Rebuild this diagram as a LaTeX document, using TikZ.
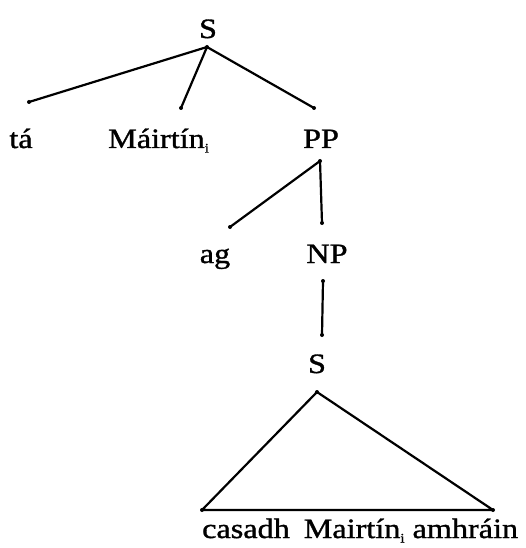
\documentclass[tikz,border=0pt]{standalone}
\usepackage{fontspec}
\setmainfont[FakeStretch=1.15,FakeBold=1.2]{Liberation Serif}
\newcommand{\idx}{\raisebox{-0.35ex}{\fontsize{13}{13}\selectfont i}}
\begin{document}
\begin{tikzpicture}[x=1pt,y=-1pt,
  lbl/.style={font=\fontsize{28}{30}\selectfont, inner sep=0pt, anchor=base},
  branch/.style={line width=2.2pt, line cap=round},
  tip/.style={circle, fill=black, inner sep=0pt, minimum size=4pt}]
\useasboundingbox (0,0) rectangle (526,548);
% labels
\node[lbl] (s1) at (208,38) {S};
\node[lbl] (ta) at (21,148) {tá};
\node[lbl, anchor=base west] (mairtin) at (108,148) {Máirtín\idx};
\node[lbl] (pp) at (321,148) {PP};
\node[lbl] (ag) at (215,263) {ag};
\node[lbl] (np) at (327,263) {NP};
\node[lbl] (s2) at (317,373) {S};
\node[lbl, anchor=base west] (yield) at (202,538) {casadh\hspace{0.5em}Mairtín\idx{} amhráin};
% attachment points of the branches
\coordinate (s1b) at (207,47);
\coordinate (tat) at (29,102);
\coordinate (mat) at (181,108);
\coordinate (ppt) at (314,108);
\coordinate (ppb) at (320,161);
\coordinate (agt) at (230,227);
\coordinate (npt) at (322,223);
\coordinate (npb) at (323,281);
\coordinate (s2t) at (322,335);
\coordinate (apex) at (317,392);
\coordinate (bl) at (202,510);
\coordinate (br) at (493,510);
% branches
\draw[branch] (s1b) -- (tat);
\draw[branch] (s1b) -- (mat);
\draw[branch] (s1b) -- (ppt);
\draw[branch] (ppb) -- (agt);
\draw[branch] (ppb) -- (npt);
\draw[branch] (npb) -- (s2t);
\draw[branch, line join=round] (apex) -- (bl) -- (br) -- cycle;
% end dots
\foreach \p in {s1b,tat,mat,ppt,ppb,agt,npt,npb,s2t,apex,bl,br}
  \node[tip] at (\p) {};
\end{tikzpicture}
\end{document}
